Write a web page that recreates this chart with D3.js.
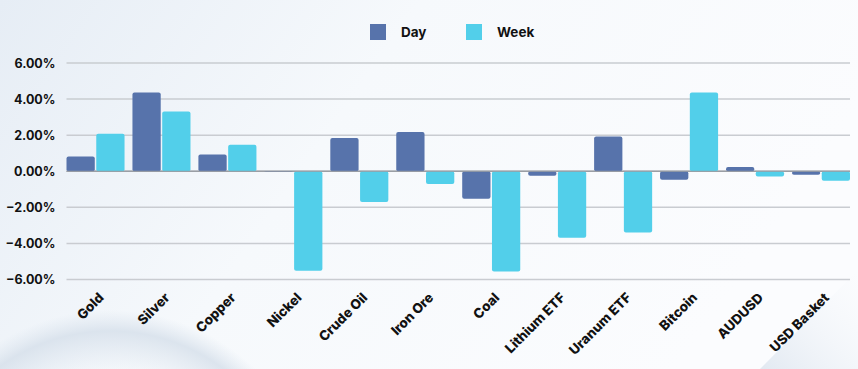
<!DOCTYPE html>
<html><head><meta charset="utf-8">
<script src="https://cdn.jsdelivr.net/npm/d3@7"></script>
<style>
html,body{margin:0;padding:0;}
body{width:858px;height:369px;overflow:hidden;}
text{font-family:Inter, "Open Sans", sans-serif;font-weight:700;fill:#111;}
</style></head>
<body>
<svg id="chart" width="858" height="369"></svg>
<script>
const categories = ["Gold","Silver","Copper","Nickel","Crude Oil","Iron Ore","Coal","Lithium ETF","Uranum ETF","Bitcoin","AUDUSD","USD Basket"];
const dayValues  = [0.82, 4.36, 0.93, 0.02, 1.84, 2.18, -1.53, -0.25, 1.93, -0.47, 0.23, -0.19];
const weekValues = [2.08, 3.31, 1.47, -5.51, -1.71, -0.71, -5.56, -3.68, -3.40, 4.36, -0.29, -0.53];
const seriesNames = ["Day","Week"];
const yTicks = [-6, -4, -2, 0, 2, 4, 6];

const colors = {Day:"#5773ab", Week:"#52cfea"};
const W = 858, H = 369;
const m = {left:66.5, right:8, top:63, bottom:89.5};
const svg = d3.select("#chart");

// background
const defs = svg.append("defs");
const bg = defs.append("linearGradient").attr("id","bg").attr("x1","0").attr("y1","0").attr("x2","1").attr("y2","0.3");
bg.append("stop").attr("offset","0").attr("stop-color","#e6edf5");
bg.append("stop").attr("offset","0.45").attr("stop-color","#f6f9fc");
bg.append("stop").attr("offset","1").attr("stop-color","#fbfcfe");
svg.append("rect").attr("width",W).attr("height",H).attr("fill","url(#bg)");
const rg = defs.append("radialGradient").attr("id","swoosh").attr("cx","0.5").attr("cy","0.5").attr("r","0.5");
rg.append("stop").attr("offset","0.7").attr("stop-color","#dbe4ee").attr("stop-opacity",0);
rg.append("stop").attr("offset","0.9").attr("stop-color","#d5dfea").attr("stop-opacity",0.8);
rg.append("stop").attr("offset","1").attr("stop-color","#dbe4ee").attr("stop-opacity",0);
svg.append("circle").attr("cx",110).attr("cy",520).attr("r",210).attr("fill","url(#swoosh)");
const rg2 = defs.append("linearGradient").attr("id","sw2").attr("x1","0").attr("y1","1").attr("x2","1").attr("y2","0");
rg2.append("stop").attr("offset","0").attr("stop-color","#dfe7f0").attr("stop-opacity",0.9);
rg2.append("stop").attr("offset","1").attr("stop-color","#f3f6fa").attr("stop-opacity",0);
svg.append("path").attr("d","M760,369 L858,270 L858,369 Z").attr("fill","url(#sw2)");

const x0 = d3.scaleBand().domain(categories).range([m.left, W - m.right]).paddingInner(0.12).paddingOuter(0);
const x1 = d3.scaleBand().domain(seriesNames).range([0, x0.bandwidth()]).paddingInner(0.05);
const y = d3.scaleLinear().domain([-6, 6]).range([H - m.bottom, m.top]);

// grid
svg.append("g").selectAll("line").data(yTicks).join("line")
  .attr("x1", m.left).attr("x2", W - m.right)
  .attr("y1", d => y(d)).attr("y2", d => y(d))
  .attr("stroke", d => d === 0 ? "#9a9ea4" : "#c9ccd1").attr("stroke-width", 1.5);

// y axis labels
const yAxis = d3.axisLeft(y).tickValues(yTicks).tickFormat(d => d3.format(".2f")(d) + "%").tickSize(0).tickPadding(11);
const ga = svg.append("g").attr("transform", `translate(${m.left},0)`).call(yAxis);
ga.select(".domain").remove();
ga.selectAll("text").style("font-family","Inter, sans-serif").style("font-weight","700").style("font-size","12.5px").attr("fill","#111").attr("dy","0.35em");

// bars
const data = categories.map((c,i) => ({cat:c, vals:[{k:"Day",v:dayValues[i]},{k:"Week",v:weekValues[i]}]}));
const groups = svg.append("g").selectAll("g").data(data).join("g")
  .attr("transform", d => `translate(${x0(d.cat)},0)`);
groups.selectAll("rect").data(d => d.vals).join("rect")
  .attr("x", d => x1(d.k))
  .attr("width", x1.bandwidth())
  .attr("y", d => Math.min(y(d.v), y(0)))
  .attr("height", d => Math.max(1, Math.abs(y(d.v) - y(0))))
  .attr("rx", 2)
  .attr("fill", d => colors[d.k]);

// zero line over bars base
svg.append("line").attr("x1", m.left).attr("x2", W - m.right).attr("y1", y(0)).attr("y2", y(0))
  .attr("stroke","#9a9ea4").attr("stroke-width",1);

// x labels
const xAxis = d3.axisBottom(x0).tickSize(0).tickPadding(0);
const gx = svg.append("g").attr("transform", `translate(0,${H - m.bottom})`).call(xAxis);
gx.select(".domain").remove();
gx.selectAll("text")
  .style("font-family","Inter, sans-serif").style("font-weight","800").style("font-size","13.5px")
  .attr("fill","#111")
  .attr("text-anchor","end")
  .attr("dy","0")
  .attr("transform","translate(9,19) rotate(-45)");

// legend
const leg = svg.append("g");
const legItems = [{k:"Day", x:370, tx:401},{k:"Week", x:466, tx:497}];
leg.selectAll("rect").data(legItems).join("rect")
  .attr("x", d => d.x).attr("y", 24).attr("width", 16).attr("height", 16)
  .attr("fill", d => colors[d.k]);
leg.selectAll("text").data(legItems).join("text")
  .attr("x", d => d.tx).attr("y", 36.5).text(d => d.k)
  .style("font-size","13.5px");
</script>
</body></html>
